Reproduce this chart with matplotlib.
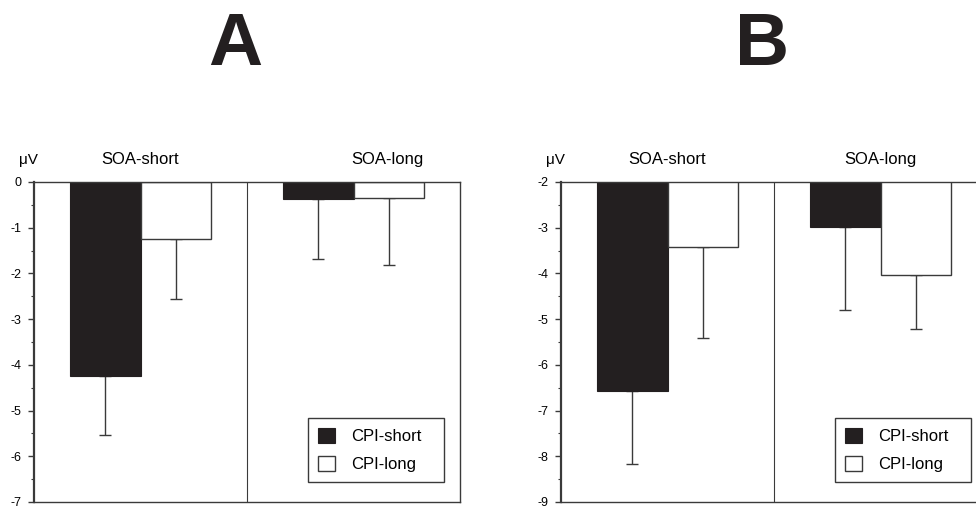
import matplotlib
matplotlib.use("Agg")
import matplotlib.pyplot as plt
import numpy as np

plt.rcParams['font.family'] = ['Liberation Sans', 'DejaVu Sans']

# ---- data ----
groups = ["SOA-short", "SOA-long"]
series = ["CPI-short", "CPI-long"]
panel_titles = ["A", "B"]

# Panel A
a_cpi_short = [-4.24, -0.37]
a_cpi_short_err = [1.30, 1.32]
a_cpi_long = [-1.24, -0.34]
a_cpi_long_err = [1.31, 1.48]
a_ylim = (-7, 0)
a_ticks = [0, -1, -2, -3, -4, -5, -6, -7]

# Panel B
b_cpi_short = [-6.57, -2.99]
b_cpi_short_err = [1.60, 1.80]
b_cpi_long = [-3.42, -4.04]
b_cpi_long_err = [1.99, 1.18]
b_ylim = (-9, -2)
b_ticks = [-2, -3, -4, -5, -6, -7, -8, -9]

BLACK = "#231f20"
LINE = "#3a3a3a"

fig = plt.figure(figsize=(9.76, 5.09), dpi=100)

W = 426 / 976
H = 320 / 509
bottom = 7 / 509
axA = fig.add_axes([34 / 976, bottom, W, H])
axB = fig.add_axes([561 / 976, bottom, W, H])

def draw(ax, s_vals, s_err, l_vals, l_err, ylim, ticks, soa_long_x):
    centers = np.array([0.5, 1.5])
    w = 0.333
    ax.bar(centers - w / 2, s_vals, width=w, color=BLACK, edgecolor=BLACK,
           linewidth=0.8, label=series[0], zorder=2)
    ax.bar(centers + w / 2, l_vals, width=w, color="white", edgecolor=LINE,
           linewidth=1.0, label=series[1], zorder=2)
    ax.errorbar(centers - w / 2, s_vals, yerr=[s_err, [0, 0]], fmt="none",
                ecolor=LINE, elinewidth=1.0, capsize=4, capthick=1.0, zorder=1)
    ax.errorbar(centers + w / 2, l_vals, yerr=[l_err, [0, 0]], fmt="none",
                ecolor=LINE, elinewidth=1.0, capsize=4, capthick=1.0, zorder=1)
    ax.axvline(1.0, color=LINE, lw=0.8, zorder=0)
    ax.set_xlim(0, 2)
    ax.set_ylim(*ylim)
    ax.set_yticks(ticks)
    ax.set_yticklabels([str(t).replace("\u2212", "-") for t in ticks])
    ax.set_yticks(np.arange(ylim[0] + 0.5, ylim[1], 1.0), minor=True)
    ax.set_xticks([])
    ax.tick_params(axis="y", which="major", length=4, width=1.0, color=LINE,
                   labelsize=9, pad=5)
    ax.tick_params(axis="y", which="minor", length=2.5, width=0.8, color=LINE)
    for sp in ax.spines.values():
        sp.set_color(LINE)
        sp.set_linewidth(1.0)
    ax.spines["left"].set_linewidth(1.6)
    ax.annotate("\u03bcV", xy=(0, 1), xycoords="axes fraction",
                xytext=(-4, 16), textcoords="offset points",
                ha="center", va="center", fontsize=11)
    ax.annotate(groups[0], xy=(0.5 / 2, 1), xycoords="axes fraction",
                xytext=(0, 16), textcoords="offset points",
                ha="center", va="center", fontsize=12)
    ax.annotate(groups[1], xy=(soa_long_x / 2, 1), xycoords="axes fraction",
                xytext=(0, 16), textcoords="offset points",
                ha="center", va="center", fontsize=12)
    leg = ax.legend(loc="lower left", bbox_to_anchor=(0.643, 0.0625, 0.32, 0.235),
                    mode="expand", borderaxespad=0, fancybox=False, framealpha=1,
                    edgecolor=LINE, fontsize=12, handlelength=1.05, handleheight=1.05,
                    handletextpad=0.95, labelspacing=0.7, borderpad=0.6)
    leg.get_frame().set_linewidth(1.0)

draw(axA, a_cpi_short, a_cpi_short_err, a_cpi_long, a_cpi_long_err, a_ylim, a_ticks, 1.657)
draw(axB, b_cpi_short, b_cpi_short_err, b_cpi_long, b_cpi_long_err, b_ylim, b_ticks, 1.5)

fig.text(235 / 976, (509 - 65) / 509, panel_titles[0], ha="center", va="baseline",
         fontsize=54, fontweight="bold", color=BLACK)
fig.text(762 / 976, (509 - 65) / 509, panel_titles[1], ha="center", va="baseline",
         fontsize=54, fontweight="bold", color=BLACK)

fig.savefig("out.png", dpi=100)
